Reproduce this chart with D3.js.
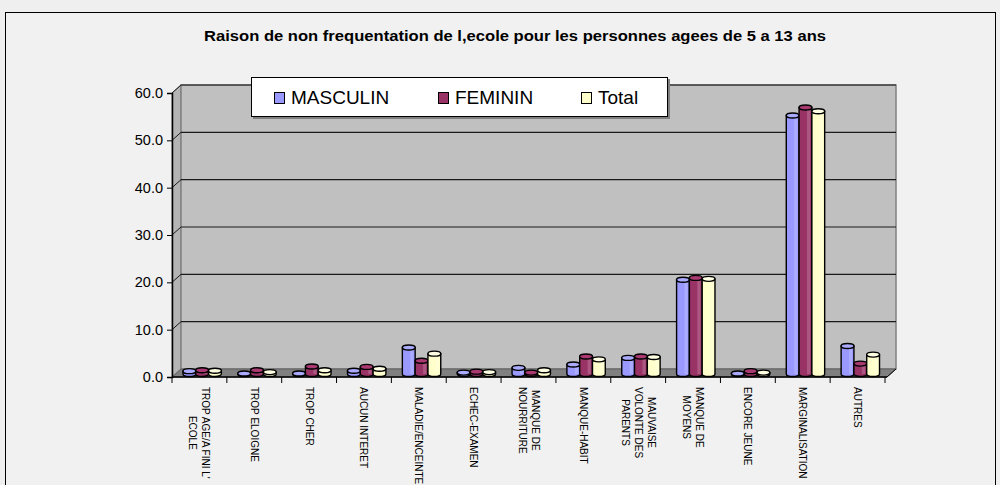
<!DOCTYPE html>
<html><head><meta charset="utf-8">
<script src="https://cdn.jsdelivr.net/npm/d3@7"></script>
<style>
html,body{margin:0;padding:0;background:#efefef;}
svg{display:block;font-family:Arial,"Liberation Sans",sans-serif;}
</style></head>
<body>
<svg id="chart" width="1000" height="485"></svg>
<script>
const title = "Raison de non frequentation de l,ecole pour les personnes agees de 5 a 13 ans";
const categories = [
  ["TROP AGE/A FINI L'", "ECOLE"], ["TROP ELOIGNE"], ["TROP CHER"], ["AUCUN INTERET"],
  ["MALADIE/ENCEINTE"], ["ECHEC-EXAMEN"], ["MANQUE DE", "NOURRITURE"], ["MANQUE-HABIT"],
  ["MAUVAISE", "VOLONTE DES", "PARENTS"], ["MANQUE DE", "MOYENS"], ["ENCORE JEUNE"],
  ["MARGINALISATION"], ["AUTRES"]
];
const seriesNames = ["MASCULIN", "FEMININ", "Total"];
const masculin = [0.6, 0.1, 0.1, 0.7, 5.6, 0.3, 1.3, 2.0, 3.4, 19.9, 0.1, 54.6, 5.9];
const feminin  = [0.8, 0.8, 1.6, 1.5, 2.8, 0.5, 0.3, 3.7, 3.7, 20.3, 0.6, 56.3, 2.2];
const total    = [0.7, 0.4, 0.8, 1.1, 4.3, 0.4, 0.8, 3.1, 3.6, 20.1, 0.3, 55.5, 4.1];
const yTicks = [0, 10, 20, 30, 40, 50, 60];
const colors = ["#9999ff", "#993366", "#ffffcc"];

const series = [masculin, feminin, total];
const svg = d3.select("#chart");

// background frame
svg.append("rect").attr("x", 5.5).attr("y", 12.5).attr("width", 990).attr("height", 480)
  .attr("fill", "#f1f1f1").attr("stroke", "#000").attr("stroke-width", 1);

svg.append("text").attr("x", 515).attr("y", 41).attr("text-anchor", "middle")
  .attr("font-weight", "bold").attr("font-size", 15.5)
  .attr("textLength", 622).attr("lengthAdjust", "spacingAndGlyphs").text(title);

const x0 = 172, x1 = 885, yBase = 377, yTop = 93;
const depthX = 9, depthY = -8;
const y = d3.scaleLinear().domain([0, 60]).range([yBase, yTop]);
const x = d3.scaleBand().domain(d3.range(categories.length)).range([x0, x1]);
const xs = d3.scaleBand().domain(d3.range(3)).range([x.bandwidth() * 0.2, x.bandwidth() * 0.9]);

// side wall
svg.append("polygon")
  .attr("points", [[x0, y(0)], [x0, y(60)], [x0 + depthX, y(60) + depthY], [x0 + depthX, y(0) + depthY]].join(" "))
  .attr("fill", "#b4b4b4").attr("stroke", "#808080");
// back wall
svg.append("rect").attr("x", x0 + depthX).attr("y", y(60) + depthY)
  .attr("width", x1 + 2 - x0).attr("height", y(0) - y(60))
  .attr("fill", "#c0c0c0").attr("stroke", "#808080").attr("stroke-width", 1.5);
// floor
svg.append("polygon")
  .attr("points", [[x0, y(0)], [x0 + depthX, y(0) + depthY], [x1 + 2 + depthX, y(0) + depthY], [x1 + 2, y(0)]].join(" "))
  .attr("fill", "#808080").attr("stroke", "#606060");

// gridlines
yTicks.filter(d => d > 0).forEach(t => {
  svg.append("line").attr("x1", x0 + depthX).attr("x2", x1 + 2 + depthX)
    .attr("y1", y(t) + depthY).attr("y2", y(t) + depthY).attr("stroke", "#1a1a1a").attr("stroke-width", 1.2);
  svg.append("line").attr("x1", x0).attr("x2", x0 + depthX)
    .attr("y1", y(t)).attr("y2", y(t) + depthY).attr("stroke", "#1a1a1a").attr("stroke-width", 1);
});

// y axis
const yAxis = d3.axisLeft(y).tickValues(yTicks).tickFormat(d3.format(".1f")).tickSize(5).tickPadding(4);
const ya = svg.append("g").attr("transform", `translate(${x0},0)`).call(yAxis);
ya.select(".domain").attr("stroke", "#000").attr("stroke-width", 1.5);
ya.selectAll(".tick line").attr("stroke", "#000");
ya.selectAll("text").attr("font-size", 14.5).attr("fill", "#000").attr("font-family", "Arial,'Liberation Sans',sans-serif");

// bars (cylinders)
const bdx = 0, bdy = -3, ry = 2.5;
const bw = xs.bandwidth();
categories.forEach((c, i) => {
  series.forEach((s, j) => {
    const v = s[i];
    const left = x(i) + xs(j) + bdx;
    const yb = y(0) + bdy, yt = y(v) + bdy;
    const col = colors[j];
    const g = svg.append("g");
    const path = `M${left},${yt} L${left},${yb} A${bw / 2},${ry} 0 0 0 ${left + bw},${yb} L${left + bw},${yt}`;
    g.append("path").attr("d", path + " Z").attr("fill", col).attr("stroke", "#000").attr("stroke-width", 1.4);
    g.append("rect").attr("x", left + bw * 0.62).attr("y", yt).attr("width", bw * 0.25)
      .attr("height", Math.max(0, yb - yt)).attr("fill", "#fff").attr("opacity", 0.18);
    g.append("ellipse").attr("cx", left + bw / 2).attr("cy", yt).attr("rx", bw / 2).attr("ry", ry)
      .attr("fill", d3.color(col).brighter(0.3)).attr("stroke", "#000").attr("stroke-width", 1.4);
  });
});

// x axis
svg.append("line").attr("x1", x0).attr("x2", x1 + 2).attr("y1", y(0)).attr("y2", y(0))
  .attr("stroke", "#000").attr("stroke-width", 1.5);
d3.range(categories.length + 1).forEach(i => {
  const xx = i < categories.length ? x(i) : x1;
  svg.append("line").attr("x1", xx).attr("x2", xx).attr("y1", y(0)).attr("y2", y(0) + 6)
    .attr("stroke", "#000");
});
svg.append("line").attr("x1", x1 + 2).attr("x2", x1 + 2 + depthX).attr("y1", y(0)).attr("y2", y(0) + depthY)
  .attr("stroke", "#000");

// category labels
const fs = 10, lh = 13;
categories.forEach((lines, i) => {
  const cx = x(i) + x.bandwidth() / 2;
  const g = svg.append("g").attr("transform", `translate(${cx},387) rotate(90)`);
  const n = lines.length;
  const texts = lines.map((l, k) => g.append("text").attr("font-size", fs)
    .attr("y", (k - (n - 1) / 2) * lh + fs * 0.35).text(l));
  const maxW = d3.max(texts, t => t.node().getComputedTextLength());
  texts.forEach(t => t.attr("x", maxW / 2).attr("text-anchor", "middle"));
});

// legend
svg.append("rect").attr("x", 253).attr("y", 79).attr("width", 417).attr("height", 40).attr("fill", "#808080");
svg.append("rect").attr("x", 251.5).attr("y", 77.5).attr("width", 416).attr("height", 39)
  .attr("fill", "#fff").attr("stroke", "#000");
const legX = [274, 438, 581];
seriesNames.forEach((nm, j) => {
  svg.append("rect").attr("x", legX[j] + 0.5).attr("y", 92.5).attr("width", 10).attr("height", 11)
    .attr("fill", colors[j]).attr("stroke", "#000");
  svg.append("text").attr("x", legX[j] + 17).attr("y", 104).attr("font-size", 19).text(nm);
});
</script>
</body></html>
